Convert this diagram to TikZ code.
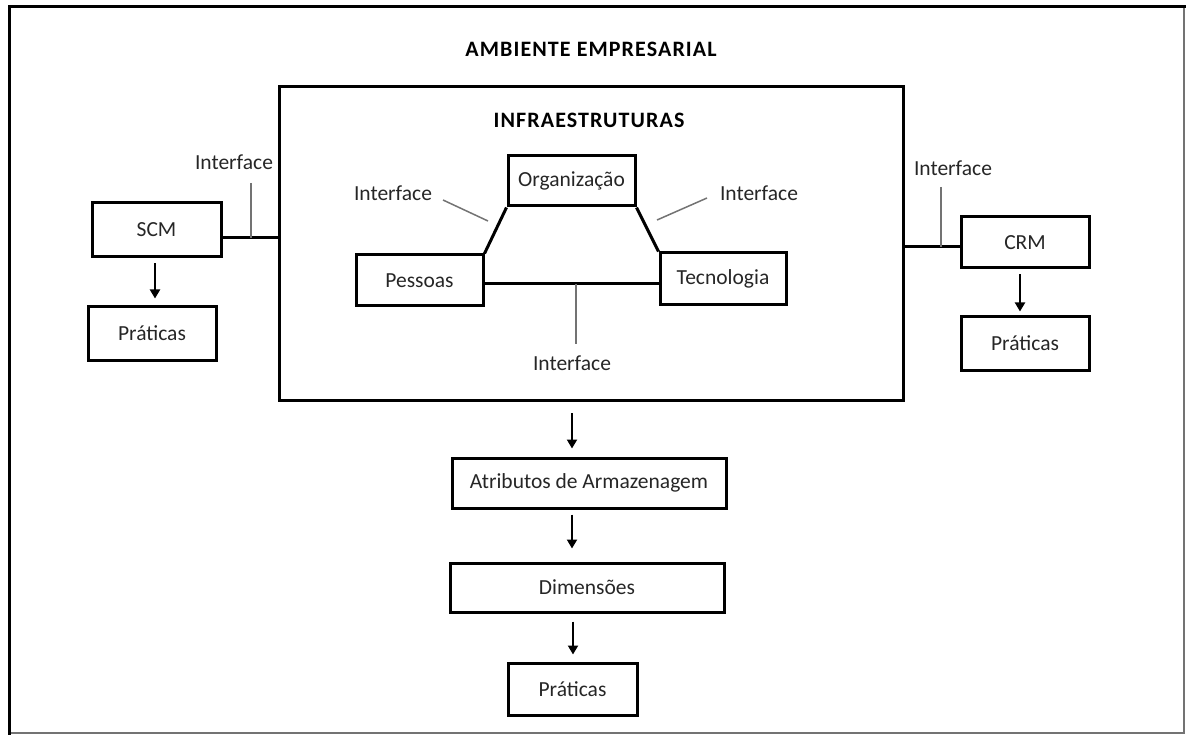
\documentclass[tikz,border=0pt]{standalone}
\usepackage{fontspec}
\setmainfont{Carlito}
\newfontfamily\ttlfont[LetterSpace=5]{Carlito}
\usetikzlibrary{arrows.meta}
\definecolor{txt}{HTML}{262626}
\tikzset{
  box/.style={draw=black, line width=3pt, inner sep=0pt, text=txt, font=\fontsize{21.5}{25}\selectfont},
  lbl/.style={inner sep=0pt, text=txt, font=\fontsize{21.5}{25}\selectfont},
  ttl/.style={inner sep=0pt, text=black, font=\fontsize{22}{26}\ttlfont\bfseries},
  conn/.style={line width=3pt, black},
  lead/.style={line width=1.5pt, black!55},
  arr/.style={line width=2pt, black, -{Triangle[width=10pt,length=9pt]}},
}
\begin{document}
\begin{tikzpicture}[x=1pt,y=-1pt]
\useasboundingbox (0,0) rectangle (1186,735);
% outer frame
\coordinate (tl) at (9,7);
\coordinate (tr) at (1184,7);
\coordinate (bl) at (9,733);
\coordinate (br) at (1184,733);
\draw[black!55, line width=1.2pt] (tr) -- (br) -- (bl);
\draw[black, line width=3pt] (1186,7) -- (tl) -- (9,735);

\node[ttl] (amb) at (591,49) {AMBIENTE EMPRESARIAL};

% infrastructure box
\node[box, minimum width=624, minimum height=313] (infra) at (591,243.5) {};
\node[ttl] (inftit) at (589,120) {INFRAESTRUTURAS};

\node[box, minimum width=127, minimum height=50] (org) at (571.5,181) {Organização};
\node[box, minimum width=127, minimum height=51] (pes) at (419.5,280.5) {Pessoas};
\node[box, minimum width=126, minimum height=52] (tec) at (723,279) {Tecnologia};

\draw[conn] (org.south west) -- (pes.north east);
\draw[conn] (org.south east) -- (tec.north west);
\draw[conn] ([yshift=-3.5pt]pes.east) -- ([yshift=-3.5pt]pes.east -| tec.west);

\node[lbl] (ifl) at (393,193) {Interface};
\node[lbl] (ifr) at (759,193) {Interface};
\node[lbl] (ifb) at (572,363) {Interface};
\coordinate (lA) at (443,200);
\coordinate (lB) at (488,221);
\coordinate (rA) at (707,198);
\coordinate (rB) at (657,220);
\coordinate (bA) at (576,284);
\coordinate (bB) at (576,344);
\draw[lead] (lA) -- (lB);
\draw[lead] (rA) -- (rB);
\draw[lead] (bA) -- (bB);

% SCM side
\node[box, minimum width=129, minimum height=54] (scm) at (156.5,230) {SCM};
\node[box, minimum width=128, minimum height=53] (pra1) at (152,333.5) {Práticas};
\coordinate (sj) at (251,238);
\draw[conn] ([yshift=-8pt]scm.east) -- ([yshift=-8pt]scm.east -| infra.west);
\node[lbl] (ifs) at (234,162) {Interface};
\coordinate (sjt) at (251,183);
\draw[lead] (sjt) -- (sj);
\draw[arr, shorten <=5pt, shorten >=7pt] ([xshift=-1.5pt]scm.south) -- ([xshift=-1.5pt]scm.south |- pra1.north);

% CRM side
\node[box, minimum width=128, minimum height=51] (crm) at (1025,242.5) {CRM};
\node[box, minimum width=128, minimum height=53] (pra2) at (1025,343.5) {Práticas};
\coordinate (cj) at (941,247);
\draw[conn] ([yshift=-4.5pt]crm.west) -- ([yshift=-4.5pt]crm.west -| infra.east);
\node[lbl] (ifc) at (953,168) {Interface};
\coordinate (cjt) at (941,187);
\draw[lead] (cjt) -- (cj);
\draw[arr, shorten <=5pt, shorten >=4pt] ([xshift=-5pt]crm.south) -- ([xshift=-5pt]crm.south |- pra2.north);

% bottom column
\node[box, minimum width=274, minimum height=50] (atr) at (589,483) {Atributos de Armazenagem};
\node[box, minimum width=274, minimum height=49] (dim) at (587,587.5) {Dimensões};
\node[box, minimum width=129, minimum height=52] (pra3) at (572.5,689) {Práticas};
\coordinate (a1) at (572,400);
\draw[arr, shorten <=13pt, shorten >=8pt] (a1) -- (a1 |- atr.north);
\draw[arr, shorten <=5pt, shorten >=13pt] ([xshift=-17pt]atr.south) -- ([xshift=-17pt]atr.south |- dim.north);
\draw[arr, shorten <=8pt, shorten >=7pt] ([xshift=0.5pt]pra3.north |- dim.south) -- ([xshift=0.5pt]pra3.north);
\end{tikzpicture}
\end{document}
